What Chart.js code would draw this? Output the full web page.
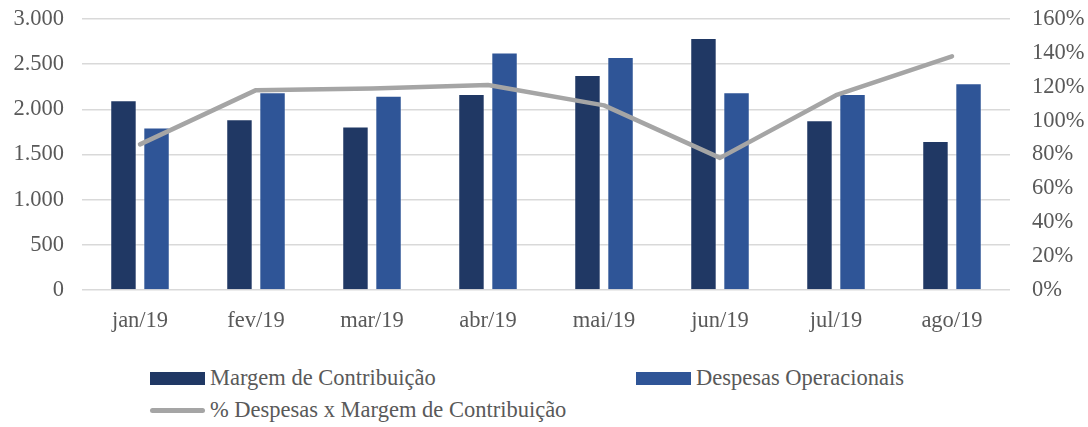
<!DOCTYPE html>
<html lang="pt-BR">
<head>
<meta charset="utf-8">
<title>Margem x Despesas</title>
<script src="https://cdn.jsdelivr.net/npm/chart.js@4.4.1/dist/chart.umd.min.js"></script>
<style>
    html, body {
        margin: 0;
        padding: 0;
        background: #ffffff;
    }
    .chart-wrap {
        position: relative;
        width: 1088px;
        height: 345px;
    }
    .legend {
        position: relative;
        width: 1088px;
        height: 82px;
        font-family: "Liberation Serif", "DejaVu Serif", serif;
        font-size: 22.5px;
        color: #595959;
    }
    .legend-item {
        position: absolute;
        display: flex;
        align-items: center;
        white-space: nowrap;
    }
    .legend-swatch {
        display: inline-block;
        width: 55px;
        margin-right: 5px;
    }
</style>
</head>
<body>
<div class="chart-wrap"><canvas id="mainChart"></canvas></div>
<div class="legend" id="legend"></div>

<script>
// Dados do grafico
const months = ['jan/19', 'fev/19', 'mar/19', 'abr/19', 'mai/19', 'jun/19', 'jul/19', 'ago/19'];
const margemContribuicao = [2100, 1890, 1810, 2170, 2380, 2790, 1880, 1650];
const despesasOperacionais = [1800, 2190, 2150, 2630, 2580, 2190, 2170, 2290];
const percentDespesas = [86, 118, 119, 121, 109, 78, 115, 138];

const seriesNames = ['Margem de Contribuição', 'Despesas Operacionais', '% Despesas x Margem de Contribuição'];
const valueTicks = [0, 500, 1000, 1500, 2000, 2500, 3000];
const percentTicks = [0, 20, 40, 60, 80, 100, 120, 140, 160];

const FONT = '"Liberation Serif", "DejaVu Serif", serif';
const TEXT_COLOR = '#595959';
const GRID_COLOR = '#D9D9D9';
const COLORS = ['#203864', '#2F5597', '#A5A5A5'];

function formatThousands(value) {
    return value.toString().replace(/\B(?=(\d{3})+(?!\d))/g, '.');
}

// fixa a largura do eixo e remove o padding vertical extra dos rotulos
function fitVerticalAxis(width) {
    return (scale) => {
        scale.width = width;
        scale.paddingTop = 0;
        scale.paddingBottom = 0;
    };
}

const chart = new Chart(document.getElementById('mainChart'), {
    type: 'bar',
    data: {
        labels: months,
        datasets: [{
            type: 'line',
            label: seriesNames[2],
            data: percentDespesas,
            yAxisID: 'yPct',
            borderColor: COLORS[2],
            backgroundColor: COLORS[2],
            borderWidth: 4.5,
            borderCapStyle: 'round',
            borderJoinStyle: 'round',
            pointRadius: 0,
            tension: 0,
            order: 0
        }, {
            label: seriesNames[0],
            data: margemContribuicao,
            yAxisID: 'y',
            backgroundColor: COLORS[0],
            borderColor: 'rgba(255,255,255,0.35)',
            borderWidth: 1,
            categoryPercentage: 0.57,
            barPercentage: 0.8,
            order: 1
        }, {
            label: seriesNames[1],
            data: despesasOperacionais,
            yAxisID: 'y',
            backgroundColor: COLORS[1],
            borderColor: 'rgba(255,255,255,0.35)',
            borderWidth: 1,
            categoryPercentage: 0.57,
            barPercentage: 0.8,
            order: 2
        }]
    },
    options: {
        responsive: true,
        maintainAspectRatio: false,
        animation: false,
        layout: {
            padding: { top: 19, left: 0, right: 0, bottom: 0 }
        },
        plugins: {
            legend: { display: false },
            tooltip: { enabled: false }
        },
        scales: {
            x: {
                grid: { display: false, drawTicks: false },
                border: { display: false },
                ticks: {
                    color: TEXT_COLOR,
                    font: { family: FONT, size: 22.5 },
                    padding: 18,
                    maxRotation: 0
                },
                afterFit: (scale) => { scale.height = 55; }
            },
            y: {
                position: 'left',
                min: 0,
                max: 3000,
                afterBuildTicks: (scale) => {
                    scale.ticks = valueTicks.map(v => ({ value: v }));
                },
                grid: { color: GRID_COLOR, lineWidth: 1.5, drawTicks: false },
                border: { display: false },
                ticks: {
                    color: TEXT_COLOR,
                    font: { family: FONT, size: 22.5 },
                    padding: 18,
                    callback: (value) => formatThousands(value)
                },
                afterFit: fitVerticalAxis(82)
            },
            yPct: {
                position: 'right',
                min: 0,
                max: 160,
                afterBuildTicks: (scale) => {
                    scale.ticks = percentTicks.map(v => ({ value: v }));
                },
                grid: { display: false, drawTicks: false },
                border: { display: false },
                ticks: {
                    color: TEXT_COLOR,
                    font: { family: FONT, size: 22.5 },
                    padding: 22,
                    callback: (value) => value + '%'
                },
                afterFit: fitVerticalAxis(78)
            }
        }
    }
});

// Legenda em HTML (duas colunas + linha abaixo)
function buildLegend() {
    const legend = document.getElementById('legend');
    const slots = [
        { ds: 1, left: 150, top: 20, swatch: 'bar' },
        { ds: 2, left: 636, top: 20, swatch: 'bar' },
        { ds: 0, left: 150, top: 52, swatch: 'line' }
    ];
    slots.forEach(slot => {
        const dataset = chart.data.datasets[slot.ds];
        const item = document.createElement('div');
        item.className = 'legend-item';
        item.style.left = slot.left + 'px';
        item.style.top = slot.top + 'px';

        const swatch = document.createElement('span');
        swatch.className = 'legend-swatch';
        if (slot.swatch === 'bar') {
            swatch.style.height = '13px';
            swatch.style.background = dataset.backgroundColor;
        } else {
            swatch.style.height = '5px';
            swatch.style.borderRadius = '3px';
            swatch.style.background = dataset.borderColor;
        }

        const text = document.createElement('span');
        text.textContent = dataset.label;

        item.appendChild(swatch);
        item.appendChild(text);
        legend.appendChild(item);
    });
}

buildLegend();
</script>
</body>
</html>
